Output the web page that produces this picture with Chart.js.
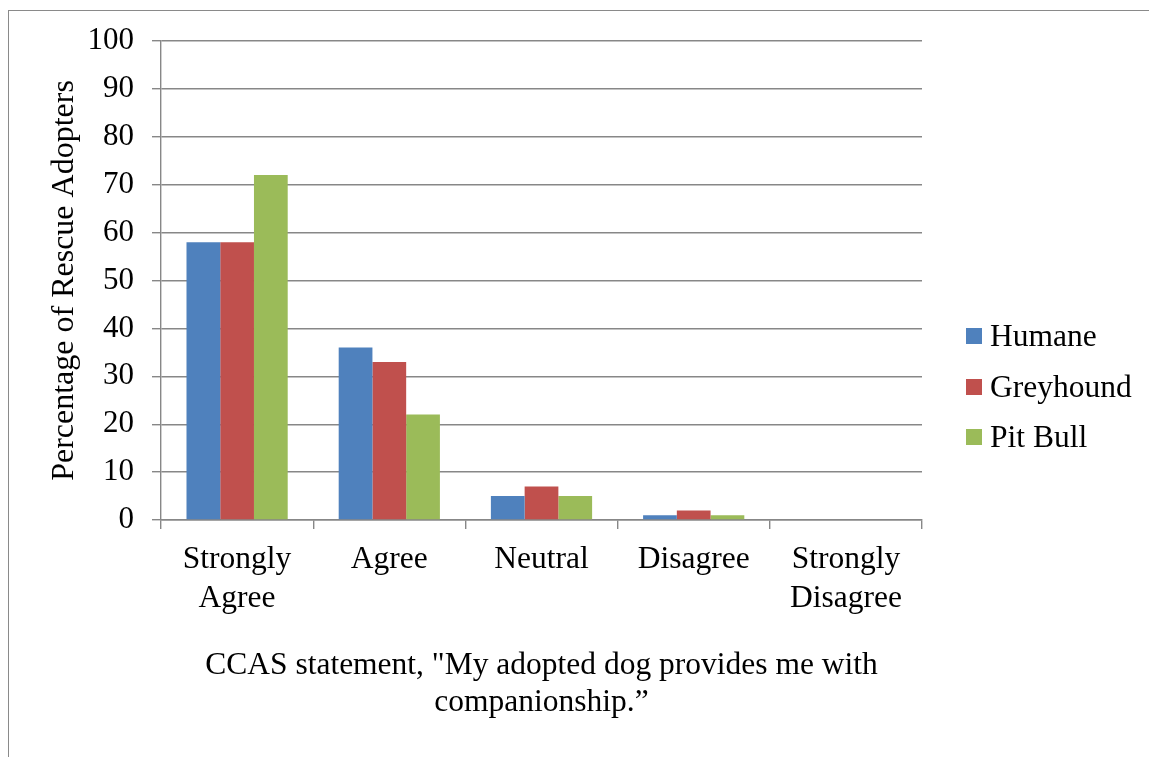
<!DOCTYPE html>
<html>
<head>
<meta charset="utf-8">
<script src="https://cdn.jsdelivr.net/npm/chart.js@4.4.1/dist/chart.umd.min.js"></script>
<style>
  body { margin: 0; background: #fff; }
  #wrap { position: relative; width: 1149px; height: 757px; overflow: hidden; }
  #frame {
    position: absolute; left: 8px; top: 10px; right: -5px; bottom: -5px;
    border-top: 1px solid #8a8a8a; border-left: 1px solid #8a8a8a;
    pointer-events: none;
  }
  #chart { position: absolute; left: 0; top: 0; }
  #legend { position: absolute; left: 966px; top: 311px; font: 31.5px "Liberation Serif", serif; color: #000; }
  #legend .row { height: 50.5px; display: flex; align-items: center; }
  #legend .box { width: 16px; height: 16px; margin-right: 8px; }
</style>
</head>
<body>
<div id="wrap">
  <canvas id="chart" width="1149" height="757"></canvas>
  <div id="frame"></div>
  <div id="legend"></div>
</div>
<script>
const categories = [["Strongly", "Agree"], "Agree", "Neutral", "Disagree", ["Strongly", "Disagree"]];
const humane = [58, 36, 5, 1, 0];
const greyhound = [58, 33, 7, 2, 0];
const pitBull = [72, 22, 5, 1, 0];
const seriesNames = ["Humane", "Greyhound", "Pit Bull"];
const seriesColors = ["#4f81bd", "#c0504d", "#9bbb59"];

const serif = "'Liberation Serif', 'Times New Roman', serif";
const gridColor = "#878787";

const data = {
  labels: categories,
  datasets: [humane, greyhound, pitBull].map(function (vals, i) {
    return {
      label: seriesNames[i],
      data: vals,
      backgroundColor: seriesColors[i],
      borderWidth: 0,
      categoryPercentage: 0.665,
      barPercentage: 1.0,
    };
  }),
};

const config = {
  type: "bar",
  data: data,
  options: {
    responsive: false,
    animation: false,
    layout: {
      padding: { left: 45, top: 41, right: 227, bottom: 0 },
    },
    plugins: {
      legend: { display: false },
      tooltip: { enabled: false },
    },
    scales: {
      x: {
        grid: {
          display: true,
          offset: true,
          drawOnChartArea: false,
          drawTicks: true,
          tickLength: 9,
          color: gridColor,
          lineWidth: 1.4,
        },
        border: { color: gridColor, width: 1.4 },
        ticks: {
          color: "#000",
          padding: 11,
          font: { family: serif, size: 31.5, lineHeight: 1.24 },
          maxRotation: 0,
          autoSkip: false,
        },
        title: {
          display: true,
          text: ['CCAS statement, "My adopted dog provides me with', "companionship.\u201d"],
          color: "#000",
          font: { family: serif, size: 31.5, lineHeight: 1.18 },
          padding: { top: 0, bottom: 36 },
        },
        afterFit: function (scale) {
          scale.height = 757 - 520;
        },
      },
      y: {
        min: 0,
        max: 100,
        ticks: {
          stepSize: 10,
          color: "#000",
          padding: 18,
          font: { family: serif, size: 31 },
        },
        grid: {
          color: gridColor,
          lineWidth: 1.4,
          tickLength: 9,
          drawTicks: true,
        },
        border: { color: gridColor, width: 1.4 },
        title: {
          display: true,
          text: "Percentage of Rescue Adopters",
          color: "#000",
          font: { family: serif, size: 32, lineHeight: 1.2 },
          padding: { top: 0, bottom: 0 },
        },
        afterFit: function (scale) {
          scale.width = 161 - 45;
        },
      },
    },
  },
};

new Chart(document.getElementById("chart"), config);

// legend as html, built from the same series arrays
const legend = document.getElementById("legend");
seriesNames.forEach(function (name, i) {
  const row = document.createElement("div");
  row.className = "row";
  const box = document.createElement("span");
  box.className = "box";
  box.style.background = seriesColors[i];
  const txt = document.createElement("span");
  txt.textContent = name;
  row.appendChild(box);
  row.appendChild(txt);
  legend.appendChild(row);
});
</script>
</body>
</html>
